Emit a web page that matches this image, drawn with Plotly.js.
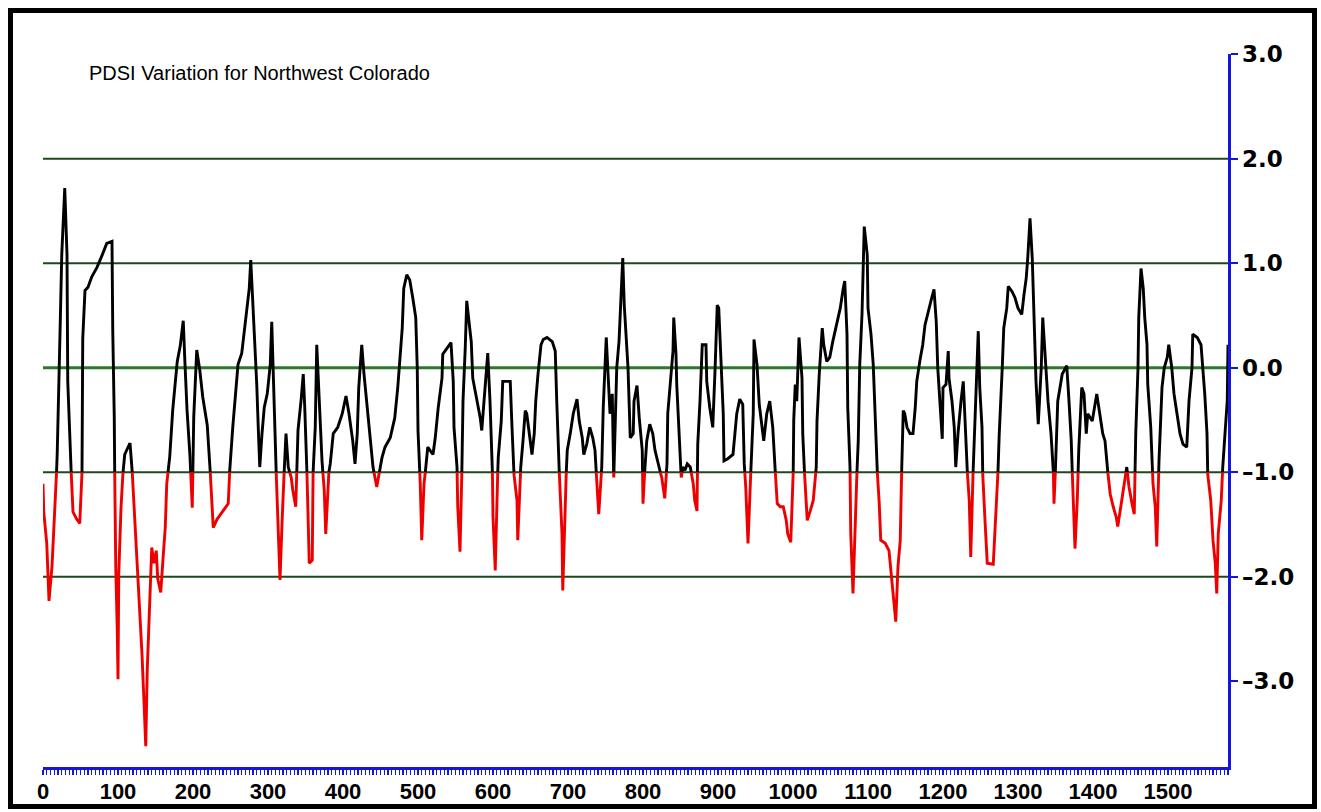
<!DOCTYPE html>
<html>
<head>
<meta charset="utf-8">
<script src="https://cdn.plot.ly/plotly-3.0.1.min.js"></script>
<style>
  html, body { margin: 0; padding: 0; background: #ffffff; }
  #wrap { position: relative; width: 1321px; height: 812px; overflow: hidden; }
  #chart { position: absolute; left: 0; top: 0; width: 1321px; height: 812px; }
  #frame { position: absolute; left: 8px; top: 8px; width: 1309px; height: 801px;
           box-sizing: border-box; border: 5px solid #000; pointer-events: none; }
</style>
</head>
<body>
<div id="wrap"><div id="chart"></div><div id="frame"></div></div>
<script>
// ---- data ----
const chartTitle = "PDSI Variation for Northwest Colorado";
const droughtThreshold = -1;                 // below this the line is red
const gridLevels = [-2, -1, 0, 1, 2];
const yTickValues = [-3, -2, -1, 0, 1, 2, 3];
const yTickLabels = ["\u20133.0", "\u20132.0", "\u20131.0", "0.0", "1.0", "2.0", "3.0"];
const xTickValues = [0,100,200,300,400,500,600,700,800,900,1000,1100,1200,1300,1400,1500];
const xTickLabels = ["0","100","200","300","400","500","600","700","800","900","1000","1100","1200","1300","1400","1500"];

const years = [
0,1,5,8,12,13,16,19,23,25,
29,32,33,36,40,45,49,52,53,56,
60,65,72,79,85,92,93,95,96,97,
99,100,101,104,107,109,116,119,121,125,
128,132,135,137,139,141,145,148,151,153,
157,160,163,165,169,173,179,183,187,189,
192,196,199,201,205,209,213,219,223,227,
232,239,247,249,253,256,260,265,268,272,
275,277,280,283,285,287,289,292,295,299,
303,305,308,311,313,316,319,321,324,327,
331,333,337,340,344,347,349,352,355,359,
360,363,365,368,372,375,377,380,383,387,
393,399,404,408,413,416,419,421,425,428,
432,436,440,445,448,452,456,463,469,473,
479,481,485,489,493,497,499,500,503,505,
508,511,513,520,523,527,532,533,539,544,
547,548,552,553,556,559,560,563,565,568,
571,573,579,583,585,588,591,593,596,599,
600,603,605,607,611,613,619,623,625,628,
632,633,637,640,643,645,648,652,655,657,
660,664,667,672,679,683,685,687,689,692,
693,696,699,703,707,712,715,719,721,725,
729,733,736,739,741,745,747,751,753,756,
759,761,764,765,768,771,773,775,777,780,
783,787,788,792,795,799,800,803,805,809,
813,816,820,825,829,832,833,837,840,841,
844,845,848,851,853,856,859,863,867,869,
872,873,876,879,884,885,889,893,896,899,
901,904,907,908,913,920,923,925,929,933,
935,937,940,944,947,948,952,955,959,961,
965,969,973,976,979,983,987,991,993,997,
1000,1001,1003,1005,1008,1012,1013,1016,1019,1023,
1027,1031,1032,1035,1039,1041,1045,1049,1053,1059,
1063,1067,1069,1072,1073,1076,1077,1080,1083,1085,
1087,1089,1092,1095,1099,1100,1104,1107,1109,1112,
1115,1117,1123,1128,1132,1135,1137,1140,1143,1145,
1147,1149,1152,1156,1160,1163,1165,1169,1173,1176,
1180,1185,1188,1191,1193,1196,1199,1200,1204,1207,
1208,1212,1215,1217,1220,1224,1227,1229,1232,1235,
1237,1240,1243,1245,1247,1249,1252,1253,1256,1259,
1267,1269,1272,1275,1279,1281,1285,1287,1292,1296,
1300,1305,1308,1311,1313,1316,1319,1321,1324,1327,
1331,1333,1337,1340,1344,1347,1348,1351,1353,1359,
1363,1365,1368,1371,1373,1376,1379,1381,1385,1388,
1391,1393,1399,1403,1405,1409,1413,1416,1419,1423,
1427,1431,1433,1437,1440,1443,1445,1448,1452,1455,
1457,1460,1461,1464,1467,1469,1472,1473,1477,1480,
1483,1485,1488,1492,1495,1499,1501,1505,1508,1512,
1516,1520,1525,1528,1532,1533,1539,1544,1547,1549,
1552,1553,1557,1560,1563,1565,1567,1571,1573,1576,
1579,1580
];

const pdsi = [
-1.11,-1.38,-1.68,-2.23,-1.90,-1.75,-1.42,-0.81,0.43,1.08,
1.72,1.08,-0.13,-0.75,-1.38,-1.45,-1.49,-1.00,0.28,0.74,
0.77,0.87,0.96,1.08,1.19,1.21,0.36,-0.47,-1.34,-1.90,
-2.51,-2.98,-1.98,-1.34,-0.96,-0.83,-0.72,-1.00,-1.26,-1.72,
-2.09,-2.74,-3.26,-3.62,-2.89,-2.47,-1.72,-1.87,-1.75,-2.02,
-2.15,-1.83,-1.53,-1.11,-0.85,-0.40,0.06,0.21,0.45,0.09,
-0.40,-0.85,-1.34,-0.47,0.17,-0.02,-0.28,-0.55,-1.00,-1.53,
-1.45,-1.38,-1.30,-0.98,-0.57,-0.29,0.03,0.14,0.32,0.54,
0.76,1.03,0.57,0.22,-0.16,-0.57,-0.95,-0.63,-0.38,-0.25,
0.03,0.44,-0.25,-1.02,-1.52,-2.03,-1.43,-1.08,-0.63,-0.95,
-1.05,-1.17,-1.33,-0.60,-0.32,-0.06,-0.38,-1.02,-1.87,-1.84,
-1.02,-0.57,0.22,-0.32,-0.89,-1.17,-1.59,-1.05,-0.92,-0.63,
-0.57,-0.44,-0.27,-0.44,-0.70,-0.92,-0.63,-0.19,0.22,-0.06,
-0.38,-0.70,-0.95,-1.14,-1.02,-0.86,-0.76,-0.67,-0.48,-0.19,
0.38,0.76,0.89,0.84,0.67,0.48,0.00,-0.60,-1.11,-1.65,
-1.11,-0.92,-0.76,-0.83,-0.67,-0.38,-0.10,0.13,0.19,0.24,
-0.13,-0.57,-0.95,-1.33,-1.76,-0.83,-0.32,0.19,0.64,0.44,
0.25,-0.10,-0.32,-0.48,-0.60,-0.32,-0.13,0.14,-0.32,-0.89,
-1.43,-1.94,-1.27,-0.86,-0.51,-0.13,-0.13,-0.13,-0.51,-1.02,
-1.27,-1.65,-0.95,-0.70,-0.41,-0.44,-0.63,-0.83,-0.63,-0.32,
-0.06,0.22,0.27,0.29,0.25,0.16,-0.32,-0.76,-1.11,-1.59,
-2.13,-1.27,-0.79,-0.63,-0.44,-0.30,-0.51,-0.67,-0.83,-0.73,
-0.57,-0.67,-0.79,-1.17,-1.40,-0.95,-0.38,0.29,0.00,-0.44,
-0.25,-1.05,-0.32,0.00,0.25,0.76,1.05,0.60,0.32,0.00,
-0.67,-0.63,-0.32,-0.17,-0.48,-0.79,-1.30,-0.89,-0.70,-0.54,
-0.63,-0.79,-0.92,-1.05,-1.25,-0.92,-0.44,-0.13,0.16,0.48,
0.13,-0.16,-0.63,-1.05,-0.95,-0.98,-0.92,-0.95,-1.11,-1.27,
-1.37,-0.73,-0.32,0.22,0.22,-0.13,-0.38,-0.57,-0.03,0.60,
0.57,0.00,-0.44,-0.89,-0.87,-0.83,-0.63,-0.44,-0.30,-0.35,
-0.92,-1.14,-1.68,-0.95,-0.44,0.27,0.03,-0.35,-0.57,-0.70,
-0.44,-0.32,-0.57,-0.95,-1.30,-1.33,-1.33,-1.46,-1.59,-1.67,
-1.20,-0.50,-0.16,-0.32,0.29,-0.10,-0.63,-1.11,-1.46,-1.37,
-1.27,-0.95,-0.51,-0.06,0.38,0.22,0.06,0.10,0.25,0.44,
0.57,0.76,0.83,0.32,-0.38,-0.95,-1.59,-2.16,-1.43,-1.05,
-0.70,0.03,0.51,1.35,1.08,0.57,0.32,0.03,-0.32,-0.95,
-1.30,-1.65,-1.68,-1.75,-2.06,-2.22,-2.43,-1.90,-1.65,-0.95,
-0.41,-0.44,-0.57,-0.63,-0.63,-0.38,-0.13,0.06,0.22,0.41,
0.54,0.67,0.75,0.44,0.00,-0.32,-0.68,-0.19,-0.16,0.16,
-0.10,-0.32,-0.57,-0.95,-0.63,-0.32,-0.13,-0.44,-0.95,-1.27,
-1.81,-1.02,-0.48,-0.06,0.35,-0.19,-0.57,-1.02,-1.46,-1.87,
-1.88,-1.59,-1.27,-0.63,0.00,0.38,0.57,0.78,0.73,0.67,
0.57,0.51,0.70,0.86,1.05,1.43,1.05,0.63,-0.13,-0.54,
0.00,0.48,0.06,-0.32,-0.63,-0.95,-1.30,-0.79,-0.32,-0.06,
0.00,0.02,-0.32,-0.70,-1.14,-1.73,-1.27,-0.79,-0.19,-0.25,
-0.63,-0.44,-0.51,-0.32,-0.25,-0.44,-0.63,-0.70,-0.95,-1.21,
-1.33,-1.43,-1.52,-1.33,-1.17,-1.05,-0.95,-1.14,-1.30,-1.40,
-0.63,0.00,0.48,0.95,0.76,0.48,0.22,-0.16,-0.57,-1.11,
-1.33,-1.71,-0.89,-0.19,0.00,0.10,0.22,0.00,-0.25,-0.44,
-0.63,-0.73,-0.76,-0.32,0.00,0.32,0.29,0.22,-0.06,-0.25,
-0.63,-1.02,-1.27,-1.65,-1.87,-2.16,-1.59,-1.27,-0.95,-0.63,
-0.32,0.22
];

// ---- split the series at the threshold: black above, red below ----
function splitAt(xs, ys, thr) {
  const above = {x: [], y: []}, below = {x: [], y: []};
  let prev = null;
  for (let i = 0; i < xs.length; i++) {
    const isBelow = ys[i] < thr;
    const cur = isBelow ? below : above;
    if (prev !== null && prev.isBelow !== isBelow) {
      const xc = prev.x + (thr - prev.y) * (xs[i] - prev.x) / (ys[i] - prev.y);
      const old = prev.isBelow ? below : above;
      old.x.push(xc); old.y.push(thr); old.x.push(null); old.y.push(null);
      cur.x.push(xc); cur.y.push(thr);
    }
    cur.x.push(xs[i]); cur.y.push(ys[i]);
    prev = {x: xs[i], y: ys[i], isBelow: isBelow};
  }
  return {above, below};
}
const parts = splitAt(years, pdsi, droughtThreshold);

const traces = [
  {x: parts.above.x, y: parts.above.y, type: 'scatter', mode: 'lines', connectgaps: false,
   line: {color: '#000000', width: 2.9}, hoverinfo: 'skip', showlegend: false},
  {x: parts.below.x, y: parts.below.y, type: 'scatter', mode: 'lines', connectgaps: false,
   line: {color: '#ee0000', width: 2.9}, hoverinfo: 'skip', showlegend: false}
];

const shapes = gridLevels.map(v => ({
  type: 'line', xref: 'paper', x0: 0, x1: 1, yref: 'y', y0: v, y1: v, layer: 'below',
  line: {color: v === 0 ? '#2b7a2b' : '#1c4a1c', width: v === 0 ? 3.2 : 2}
}));

const layout = {
  width: 1321, height: 812,
  margin: {l: 43, r: 93, t: 54, b: 45, pad: 0},
  paper_bgcolor: '#ffffff', plot_bgcolor: '#ffffff',
  showlegend: false,
  title: {
    text: chartTitle, xref: 'container', yref: 'container',
    x: 89 / 1321, xanchor: 'left', y: 1 - 73 / 812, yanchor: 'middle',
    font: {family: 'Liberation Sans, Arial, sans-serif', size: 20, color: '#000000'}
  },
  xaxis: {
    range: [0, 1580], showgrid: false, zeroline: false,
    showline: true, linecolor: '#1515e0', linewidth: 2.5,
    tickmode: 'array', tickvals: xTickValues, ticktext: xTickLabels,
    ticks: 'outside', ticklen: 5, tickwidth: 1.5, tickcolor: '#1515e0',
    ticklabelstandoff: -2,
    minor: {ticks: 'outside', tickmode: 'linear', tick0: 0, dtick: 5, ticklen: 5, tickwidth: 1.3, tickcolor: '#1515e0'},
    tickfont: {family: 'Liberation Sans, Arial, sans-serif', size: 22, color: '#000000', weight: 'bold'},
    fixedrange: true
  },
  yaxis: {
    side: 'right', range: [-3.82, 3.002], showgrid: false, zeroline: false,
    showline: true, linecolor: '#1515e0', linewidth: 2.5,
    tickmode: 'array', tickvals: yTickValues, ticktext: yTickLabels,
    ticks: 'outside', ticklen: 7, tickwidth: 2, tickcolor: '#1515e0',
    tickfont: {family: 'DejaVu Sans, sans-serif', size: 23, color: '#000000', weight: 'bold'},
    fixedrange: true
  },
  shapes: shapes
};

Plotly.newPlot('chart', traces, layout, {displayModeBar: false, staticPlot: true});
</script>
</body>
</html>
